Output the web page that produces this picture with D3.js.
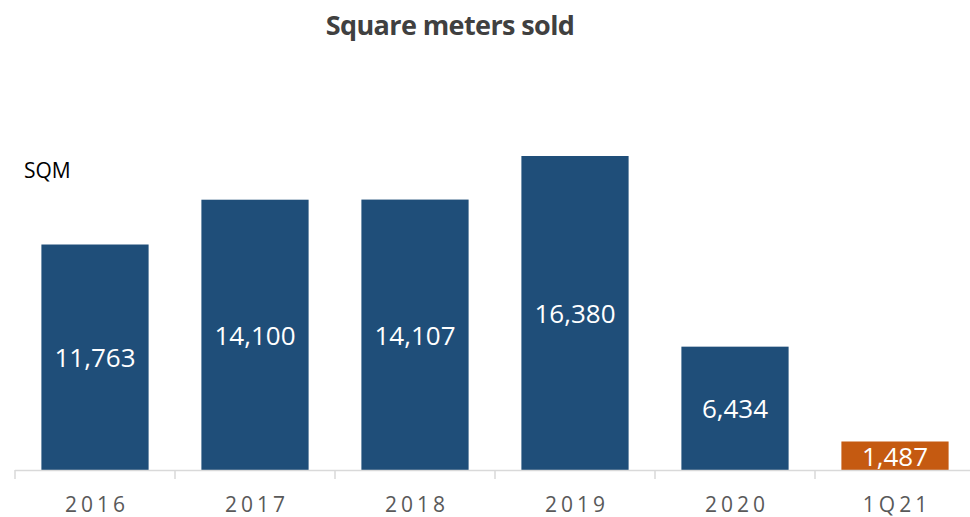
<!DOCTYPE html>
<html lang="en">
<head>
    <meta charset="UTF-8">
    <title>Square meters sold</title>
    <script src="https://d3js.org/d3.v7.min.js"></script>
    <style>
        body {margin: 0; background: #fff;}
        text {font-family: "Open Sans", sans-serif;}
    </style>
</head>
<body>
<script>
    const width = 970;
    const height = 517;

    const categories = ["2016", "2017", "2018", "2019", "2020", "1Q21"];
    const values     = [11763, 14100, 14107, 16380, 6434, 1487];
    const colors     = ["#1f4e79", "#1f4e79", "#1f4e79", "#1f4e79", "#1f4e79", "#c55a11"];

    const data = categories.map((c, i) => ({cat: c, value: values[i], color: colors[i]}));

    const svg = d3.select("body").append("svg")
            .attr("width", width).attr("height", height);

    const x = d3.scaleBand()
            .domain(categories)
            .range([15, 975])
            .paddingInner(0.33)
            .paddingOuter(0.165);

    const y = d3.scaleLinear()
            .domain([0, 16380])
            .range([470, 156]);

    // title
    svg.append("text")
            .attr("x", 450).attr("y", 35)
            .attr("text-anchor", "middle")
            .style("font-size", "27px")
            .style("font-weight", "bold")
            .style("letter-spacing", "-0.6px")
            .style("fill", "#404040")
            .text("Square meters sold");

    svg.append("text")
            .attr("x", 24).attr("y", 178)
            .style("font-size", "21px")
            .style("fill", "#000")
            .text("SQM");

    // bars
    const bars = svg.selectAll("g.bar")
            .data(data)
            .enter()
            .append("g")
            .attr("class", "bar");

    bars.append("rect")
            .attr("x", d => x(d.cat))
            .attr("y", d => y(d.value))
            .attr("width", x.bandwidth())
            .attr("height", d => y(0) - y(d.value))
            .style("fill", d => d.color);

    const format = d3.format(",.0f");

    bars.append("text")
            .attr("x", d => x(d.cat) + x.bandwidth() / 2)
            .attr("y", d => (y(d.value) + y(0)) / 2)
            .attr("text-anchor", "middle")
            .attr("dominant-baseline", "central")
            .style("font-size", "26px")
            .style("fill", "white")
            .text(d => format(d.value));

    // axis
    const gap = (x.step() - x.bandwidth()) / 2;
    const bounds = categories.map(c => x(c) - gap).concat([x(categories[categories.length - 1]) + x.bandwidth() + gap]);

    svg.append("line")
            .attr("x1", 15).attr("x2", width)
            .attr("y1", y(0) + 0.5).attr("y2", y(0) + 0.5)
            .style("stroke", "#d9d9d9")
            .style("stroke-width", 1.5);

    svg.selectAll("line.tick")
            .data(bounds)
            .enter()
            .append("line")
            .attr("class", "tick")
            .attr("x1", d => d).attr("x2", d => d)
            .attr("y1", y(0)).attr("y2", y(0) + 9)
            .style("stroke", "#d9d9d9")
            .style("stroke-width", 1.5);

    svg.selectAll("text.cat")
            .data(categories)
            .enter()
            .append("text")
            .attr("class", "cat")
            .attr("x", d => x(d) + x.bandwidth() / 2 + 2)
            .attr("y", 512)
            .attr("text-anchor", "middle")
            .style("font-size", "21px")
            .style("letter-spacing", "4px")
            .style("fill", "#595959")
            .text(d => d);
</script>
</body>
</html>
